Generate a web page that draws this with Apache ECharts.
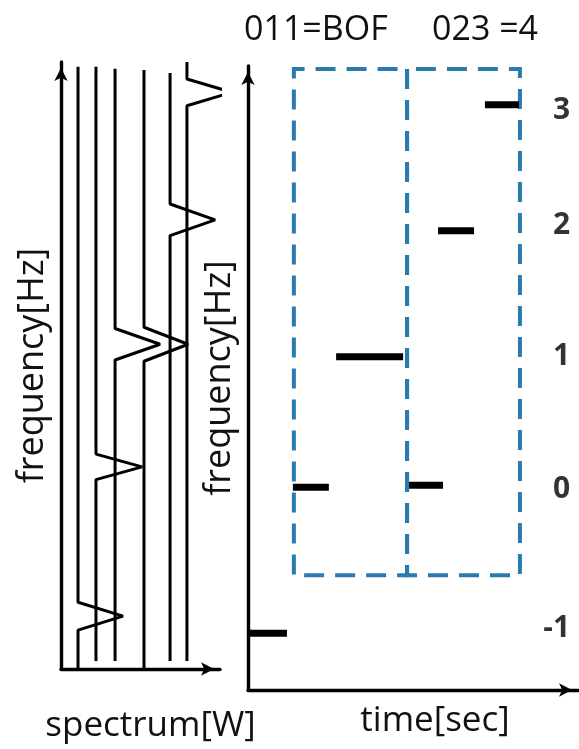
<!DOCTYPE html>
<html>
<head>
<meta charset="utf-8">
<script src="https://cdn.jsdelivr.net/npm/echarts@6/dist/echarts.min.js"></script>
<style>
  html, body { margin: 0; padding: 0; background: #fff; }
  #chart { width: 579px; height: 749px; }
</style>
</head>
<body>
<div id="chart"></div>
<script>
// left panel: one spectrum line per time slot (x = slot position, peak = frequency)
const spectrumPos = [10.7, 22.0, 34.0, 52.2, 68.6, 79.2]
const spectrumPeak = [8.7, 33.3, 53.5, 53.5, 74.0, 95.0]
const spectrumPower = [28.3, 29.0, 28.3, 27.7, 28.3, 28.3]
const spectrumTop = [99.2, 99.2, 98.9, 98.7, 98.2, 100]
const spectrumBottom = [0, 1.3, 1.3, 0, 1.3, 1.3]
const peakSpread = [2.3, 2.1, 2.6, 2.8, 2.6, 2.2]

// right panel: decoded symbols over time
const symbolStart = [0, 13.6, 26.7, 48.8, 57.6, 71.8]
const symbolEnd = [11.8, 24.5, 47.0, 59.1, 68.5, 82.1]
const symbolFreq = [9.1, 32.5, 53.4, 32.8, 73.6, 93.8]
const levelNames = ['3', '2', '1', '0', '-1']
const levelFreq = [92.8, 74.4, 53.4, 32.1, 9.8]

// dashed windows
const windowStart = [13.9, 48.2]
const windowEnd = [48.2, 82.4]
const windowTop = [99.5, 99.5]
const windowBottom = [18.4, 18.4]
const windowNames = ['011=BOF', '023 =4']

const FONT = 'Open Sans'
const chart = echarts.init(document.getElementById('chart'))

const arrowAxis = {
  show: true,
  onZero: false,
  symbol: ['none', 'arrow'],
  symbolSize: [10, 13],
  symbolOffset: [0, -6],
  lineStyle: { color: '#000', width: 3.4 }
}
const bareAxis = {
  type: 'value', min: 0, max: 100,
  axisLine: arrowAxis,
  axisTick: { show: false },
  axisLabel: { show: false },
  splitLine: { show: false }
}
const nameStyle = { fontFamily: FONT, fontSize: 35, color: '#111' }

const spectrumSeries = spectrumPos.map((x, i) => ({
  type: 'line',
  xAxisIndex: 0, yAxisIndex: 0,
  symbol: 'none',
  clip: false,
  lineStyle: { color: '#000', width: 3 },
  data: [
    [x, spectrumBottom[i]],
    [x, spectrumPeak[i] - peakSpread[i]],
    [x + spectrumPower[i], spectrumPeak[i]],
    [x, spectrumPeak[i] + peakSpread[i]],
    [x, spectrumTop[i]]
  ]
}))

const option = {
  animation: false,
  title: windowNames.map((t, i) => ({
    text: t,
    left: [239, 427][i],
    top: 8,
    textStyle: { fontFamily: FONT, fontSize: 34, fontWeight: 'normal', color: '#111' }
  })),
  grid: [
    { left: 61, top: 62, width: 159, height: 619 },
    { left: 248, top: 66, width: 330, height: 624 }
  ],
  xAxis: [
    Object.assign({}, bareAxis, {
      gridIndex: 0, name: 'spectrum[W]', nameLocation: 'middle', nameGap: 40,
      nameTextStyle: Object.assign({ padding: [0, 0, 0, 20] }, nameStyle)
    }),
    Object.assign({}, bareAxis, {
      gridIndex: 1, name: 'time[sec]', nameLocation: 'middle', nameGap: 14,
      nameTextStyle: Object.assign({ padding: [0, 0, 0, 44] }, nameStyle)
    })
  ],
  yAxis: [
    Object.assign({}, bareAxis, {
      gridIndex: 0, name: 'frequency[Hz]', nameLocation: 'middle', nameGap: 10,
      nameTextStyle: Object.assign({}, nameStyle, { fontSize: 36 })
    }),
    Object.assign({}, bareAxis, {
      gridIndex: 1, name: 'frequency[Hz]', nameLocation: 'middle', nameGap: 10,
      nameTextStyle: Object.assign({}, nameStyle, { fontSize: 36 })
    })
  ],
  series: spectrumSeries.concat([
    {
      type: 'custom',
      xAxisIndex: 1, yAxisIndex: 1,
      data: windowStart.map((s, i) => [s, windowEnd[i], windowTop[i], windowBottom[i]]),
      renderItem: (params, api) => {
        const tl = api.coord([api.value(0), api.value(2)])
        const br = api.coord([api.value(1), api.value(3)])
        const tr = [br[0], tl[1]]
        const bl = [tl[0], br[1]]
        // both windows start on their shared edge, so its dashes line up
        const pts = params.dataIndex === 0 ? [tr, br, bl, tl] : [tl, bl, br, tr]
        return {
          type: 'polygon',
          shape: { points: pts },
          style: { fill: 'none', stroke: '#2b7bb0', lineWidth: 4, lineDash: [20, 11] }
        }
      }
    },
    {
      type: 'custom',
      xAxisIndex: 1, yAxisIndex: 1,
      data: symbolStart.map((s, i) => [s, symbolEnd[i], symbolFreq[i]]),
      renderItem: (params, api) => {
        const p1 = api.coord([api.value(0), api.value(2)])
        const p2 = api.coord([api.value(1), api.value(2)])
        return {
          type: 'rect',
          shape: { x: p1[0], y: p1[1] - 3.5, width: p2[0] - p1[0], height: 7 },
          style: { fill: '#000' }
        }
      }
    },
    {
      type: 'scatter',
      xAxisIndex: 1, yAxisIndex: 1,
      symbolSize: 0,
      data: levelNames.map((n, i) => ({ value: [97.6, levelFreq[i]], name: n })),
      label: {
        show: true, position: 'inside', align: 'right', verticalAlign: 'middle',
        formatter: p => p.name,
        fontFamily: FONT, fontSize: 30, fontWeight: 'bold', color: '#000'
      }
    }
  ])
}

chart.setOption(option)
</script>
</body>
</html>
